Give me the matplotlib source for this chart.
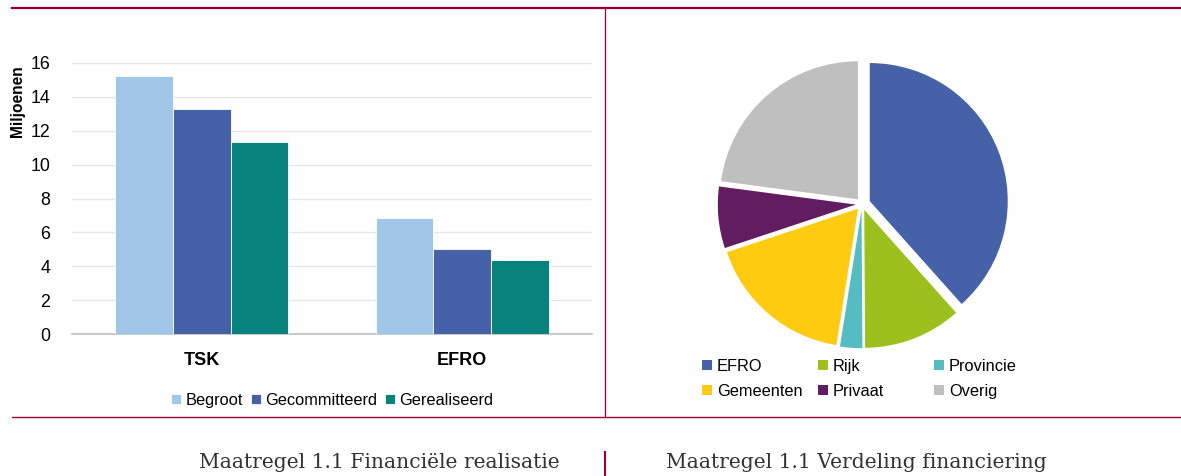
import numpy as np
import matplotlib
matplotlib.use("Agg")
import matplotlib.pyplot as plt
from matplotlib.lines import Line2D

# bar chart data (miljoenen)
categories = ["TSK", "EFRO"]
series_names = ["Begroot", "Gecommitteerd", "Gerealiseerd"]
begroot = [15.2, 6.85]
gecommitteerd = [13.25, 5.02]
gerealiseerd = [11.33, 4.37]
bar_colors = ["#A1C6E8", "#4561A8", "#08827D"]

# pie chart data (aandeel in %)
pie_labels = ["EFRO", "Rijk", "Provincie", "Gemeenten", "Privaat", "Overig"]
pie_values = [38.4, 11.5, 2.6, 17.4, 7.2, 22.9]
pie_colors = ["#4561A8", "#9CC11E", "#55BCC2", "#FECB10", "#621D60", "#BFBFBF"]

W, H = 1181, 476
MAROON = "#990033"
plt.rcParams["font.family"] = ["Liberation Sans", "DejaVu Sans"]

fig = plt.figure(figsize=(W / 100, H / 100), dpi=100)


def fx(px):
    return px / W


def fy(py):
    return 1 - py / H


# ---- left: bars ----
ax = fig.add_axes([fx(71.7), fy(334.3), fx(520.6), 271.6 / H])
x = np.arange(len(categories))
bw = 0.2215
for i, (vals, col, name) in enumerate(zip([begroot, gecommitteerd, gerealiseerd], bar_colors, series_names)):
    ax.bar(x + (i - 1) * bw, vals, bw, color=col, label=name,
           edgecolor="#FFFFFF", linewidth=0.6, zorder=3)

ax.set_xlim(-0.5, 1.5)
ax.set_ylim(0, 16)
ax.set_yticks(np.arange(0, 17, 2))
ax.yaxis.grid(True, color="#E6E6E6", linewidth=1.0, zorder=0)
ax.set_axisbelow(True)
for s in ["top", "right", "left"]:
    ax.spines[s].set_visible(False)
ax.spines["bottom"].set_color("#BFBFBF")
ax.spines["bottom"].set_linewidth(1.2)
ax.tick_params(axis="y", length=0, pad=15.5, labelsize=12.8)
ax.set_xticks(x)
ax.set_xticklabels(categories, fontsize=13, fontweight="bold")
ax.tick_params(axis="x", length=0, pad=13)

fig.text(fx(17), fy(101.5), "Miljoenen", rotation=90, ha="center", va="center",
         fontsize=11.2, fontweight="bold")

ax.legend(loc="center", bbox_to_anchor=(0.5, -0.242), ncol=3, frameon=False,
          fontsize=11.8, handlelength=0.6, handleheight=0.6, handletextpad=0.25,
          columnspacing=0.5, borderpad=0, borderaxespad=0)

# ---- right: pie ----
r_px = 138
size = 330
pax = fig.add_axes([fx(862 - size / 2), fy(204 + size / 2), fx(size), size / H])
explode = [0.06, 0.045, 0.045, 0.045, 0.045, 0.045]
wedges, _ = pax.pie(pie_values, colors=pie_colors, startangle=90, counterclock=False,
                    explode=explode, wedgeprops=dict(linewidth=0))
lim = size / 2 / r_px
pax.set_xlim(-lim, lim)
pax.set_ylim(-lim, lim)
pax.set_aspect("equal")
pax.axis("off")

col_x = [702, 818, 934]
for c in range(3):
    hs = [wedges[c], wedges[c + 3]]
    ls = [pie_labels[c], pie_labels[c + 3]]
    fig.legend(hs, ls, loc="upper left", bbox_to_anchor=(fx(col_x[c]), fy(359)),
               frameon=False, fontsize=11.8, handlelength=0.6, handleheight=0.6,
               handletextpad=0.3, labelspacing=0.6, borderpad=0, borderaxespad=0)

# ---- frame lines ----
fig.add_artist(Line2D([fx(12), 1], [fy(7.7), fy(7.7)], color=MAROON, linewidth=1.6))
fig.add_artist(Line2D([fx(12), 1], [fy(417), fy(417)], color=MAROON, linewidth=1.0))
fig.add_artist(Line2D([fx(605), fx(605)], [fy(7.7), fy(417)], color=MAROON, linewidth=0.9))
fig.add_artist(Line2D([fx(605), fx(605)], [fy(452), fy(476)], color=MAROON, linewidth=1.5))

# ---- captions ----
fig.text(fx(379), fy(462), "Maatregel 1.1 Financiële realisatie", ha="center", va="center",
         fontsize=14.6, family="DejaVu Serif", color="#333333")
fig.text(fx(856), fy(462), "Maatregel 1.1 Verdeling financiering", ha="center", va="center",
         fontsize=14.6, family="DejaVu Serif", color="#333333")

fig.savefig("out.png", dpi=100)
